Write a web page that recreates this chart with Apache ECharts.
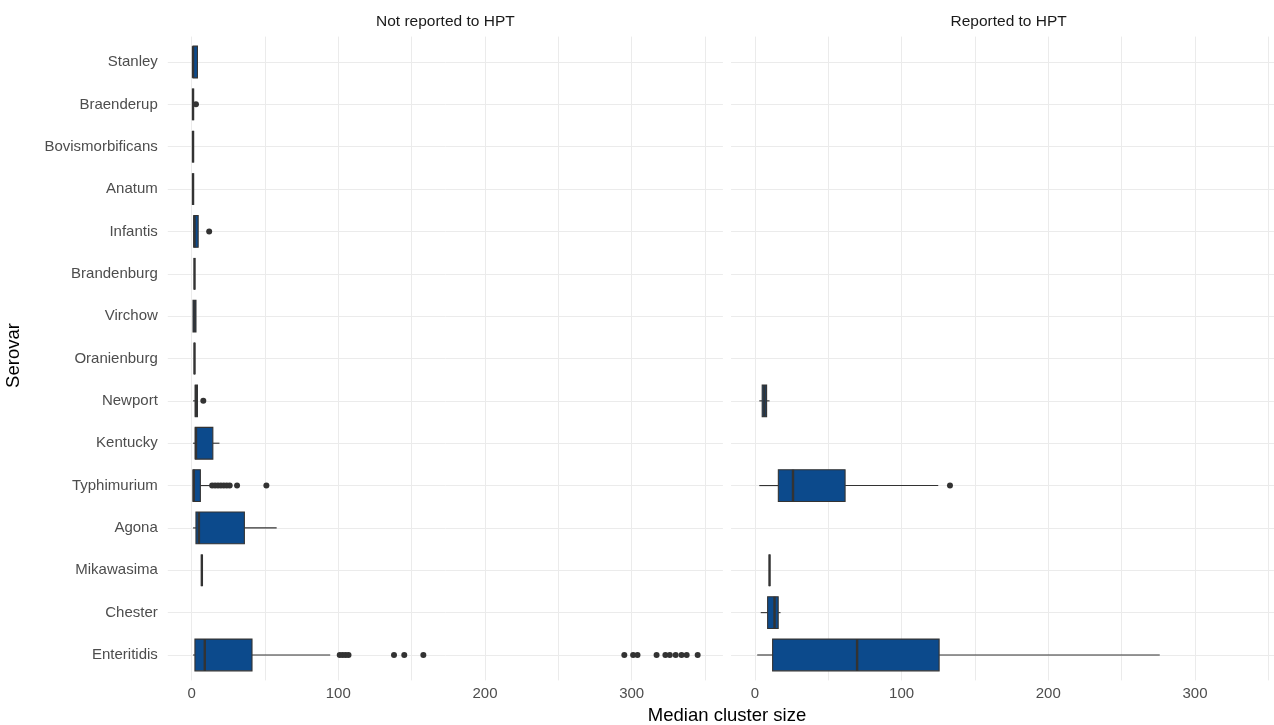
<!DOCTYPE html>
<html><head><meta charset="utf-8">
<script src="https://cdn.jsdelivr.net/npm/echarts@6/dist/echarts.min.js"></script>
<style>html,body{margin:0;padding:0;background:#fff}#c{width:1274px;height:725px}</style>
</head><body><div id="c"></div>
<script>
const categories = ['Stanley','Braenderup','Bovismorbificans','Anatum','Infantis','Brandenburg','Virchow','Oranienburg','Newport','Kentucky','Typhimurium','Agona','Mikawasima','Chester','Enteritidis'];
const panels = ['Not reported to HPT','Reported to HPT'];
const xTicks = [0, 100, 200, 300];
const xGrid = [0, 50, 100, 150, 200, 250, 300, 350];
// per category: [min, Q1, median, Q3, max] (null = no data)
const notReportedBoxes = [
  [1, 1, 1, 4, 4],
  [1, 1, 1, 1, 1],
  [1, 1, 1, 1, 1],
  [1, 1, 1, 1, 1],
  [1.5, 1.5, 2, 4.5, 4.5],
  [2, 2, 2, 2, 2],
  [1, 1, 2, 3, 3],
  [2, 2, 2, 2, 2],
  [1, 2.5, 3, 4, 4],
  [1, 2.5, 3, 14.5, 19],
  [1, 1, 1.5, 6, 12.5],
  [1, 3, 5, 36, 58],
  [7, 7, 7, 7, 7],
  null,
  [1, 2.3, 9, 41.2, 94.5]
];
const reportedBoxes = [
  null, null, null, null, null, null, null, null,
  [3, 5, 6.5, 8, 10],
  null,
  [3, 16, 26, 61.5, 125],
  null,
  [10, 10, 10, 10, 10],
  [4, 8.7, 13.4, 15.9, 17.5],
  [1.6, 12.1, 69.7, 125.6, 276]
];
// outliers: [category, value]
const notReportedOutliers = [
  ['Braenderup', 3],
  ['Infantis', 12],
  ['Newport', 8],
  ['Typhimurium', 14], ['Typhimurium', 16], ['Typhimurium', 18], ['Typhimurium', 20],
  ['Typhimurium', 22], ['Typhimurium', 24], ['Typhimurium', 26], ['Typhimurium', 31], ['Typhimurium', 51],
  ['Enteritidis', 101], ['Enteritidis', 103], ['Enteritidis', 105], ['Enteritidis', 107],
  ['Enteritidis', 138], ['Enteritidis', 145], ['Enteritidis', 158],
  ['Enteritidis', 295], ['Enteritidis', 301], ['Enteritidis', 304], ['Enteritidis', 317],
  ['Enteritidis', 323], ['Enteritidis', 326], ['Enteritidis', 330], ['Enteritidis', 334],
  ['Enteritidis', 337.5], ['Enteritidis', 345]
];
const reportedOutliers = [
  ['Typhimurium', 133]
];

const FONT = "'Liberation Sans', Arial, sans-serif";
const BOX_FILL = '#0c4a8c';
const EDGE = '#333333';
const GRIDC = '#ebebeb';
const BOX_W = 0.75;

function boxData(boxes) {
  const out = [];
  boxes.forEach((b, i) => { if (b) out.push([i].concat(b)); });
  return out;
}
function outlierData(list) {
  return list.map(o => [o[1], categories.indexOf(o[0])]);
}
function renderBox(params, api) {
  const yi = api.value(0);
  const pMin = api.coord([api.value(1), yi]);
  const pQ1 = api.coord([api.value(2), yi]);
  const pMed = api.coord([api.value(3), yi]);
  const pQ3 = api.coord([api.value(4), yi]);
  const pMax = api.coord([api.value(5), yi]);
  const h = api.size([0, BOX_W])[1];
  const cy = pMin[1];
  return {
    type: 'group',
    children: [
      { type: 'line', shape: { x1: pMin[0], y1: cy, x2: pQ1[0], y2: cy }, style: { stroke: EDGE, lineWidth: 1.1 } },
      { type: 'line', shape: { x1: pQ3[0], y1: cy, x2: pMax[0], y2: cy }, style: { stroke: EDGE, lineWidth: 1.1 } },
      { type: 'rect', shape: { x: pQ1[0], y: cy - h / 2, width: pQ3[0] - pQ1[0], height: h }, style: { fill: BOX_FILL, stroke: EDGE, lineWidth: 1.1 } },
      { type: 'line', shape: { x1: pMed[0], y1: cy - h / 2, x2: pMed[0], y2: cy + h / 2 }, style: { stroke: EDGE, lineWidth: 2.4 } }
    ]
  };
}

const gridTop = 36.6, gridH = 643.8, gridW = 555.1;
const gridLefts = [167.8, 731.1];

const option = {
  backgroundColor: '#ffffff',
  animation: false,
  textStyle: { fontFamily: FONT },
  grid: gridLefts.map(l => ({ left: l, top: gridTop, width: gridW, height: gridH, outerBoundsMode: 'none', containLabel: false })),
  xAxis: [0, 1].map(i => ({
    type: 'value', gridIndex: i, min: -16.2, max: 362.2,
    axisLine: { show: false },
    axisTick: { show: false, customValues: xGrid },
    axisLabel: { customValues: xTicks, color: '#4d4d4d', fontSize: 15, fontFamily: FONT, margin: 6 },
    splitLine: { show: true, lineStyle: { color: GRIDC, width: 1 } }
  })),
  yAxis: [0, 1].map(i => ({
    type: 'value', gridIndex: i, min: -0.6, max: 14.6, inverse: true,
    axisLine: { show: false },
    axisTick: { show: false, customValues: categories.map((c, k) => k) },
    axisLabel: {
      show: i === 0, customValues: categories.map((c, k) => k),
      formatter: v => categories[Math.round(v)], color: '#4d4d4d', fontSize: 15, fontFamily: FONT, margin: 10
    },
    splitLine: { show: true, lineStyle: { color: GRIDC, width: 1 } }
  })),
  graphic: [
    { type: 'text', x: gridLefts[0] + gridW / 2, y: 22, style: { text: panels[0], fill: '#1a1a1a', font: '15.5px ' + FONT, textAlign: 'center', textVerticalAlign: 'middle' } },
    { type: 'text', x: gridLefts[1] + gridW / 2, y: 22, style: { text: panels[1], fill: '#1a1a1a', font: '15.5px ' + FONT, textAlign: 'center', textVerticalAlign: 'middle' } },
    { type: 'text', x: 727, y: 716, style: { text: 'Median cluster size', fill: '#000', font: '18.5px ' + FONT, textAlign: 'center', textVerticalAlign: 'middle' } },
    { type: 'text', x: 13.5, y: 355.5, rotation: Math.PI / 2, style: { text: 'Serovar', fill: '#000', font: '18.5px ' + FONT, textAlign: 'center', textVerticalAlign: 'middle' } }
  ],
  series: [
    { type: 'custom', xAxisIndex: 0, yAxisIndex: 0, renderItem: renderBox, encode: { x: [1, 2, 3, 4, 5], y: 0 }, data: boxData(notReportedBoxes), z: 2 },
    { type: 'custom', xAxisIndex: 1, yAxisIndex: 1, renderItem: renderBox, encode: { x: [1, 2, 3, 4, 5], y: 0 }, data: boxData(reportedBoxes), z: 2 },
    { type: 'scatter', xAxisIndex: 0, yAxisIndex: 0, symbolSize: 6, itemStyle: { color: EDGE, opacity: 1 }, data: outlierData(notReportedOutliers), z: 3 },
    { type: 'scatter', xAxisIndex: 1, yAxisIndex: 1, symbolSize: 6, itemStyle: { color: EDGE, opacity: 1 }, data: outlierData(reportedOutliers), z: 3 }
  ]
};
const chart = echarts.init(document.getElementById('c'), null, { renderer: 'canvas' });
chart.setOption(option);
</script>
</body></html>
